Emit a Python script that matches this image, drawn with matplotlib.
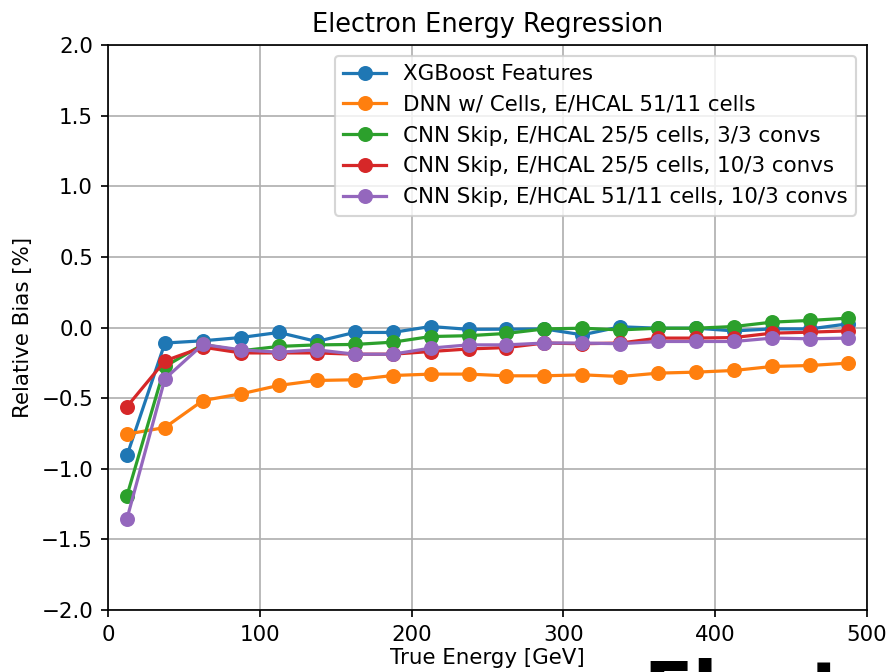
import matplotlib
matplotlib.use("Agg")
import matplotlib.pyplot as plt

energy = [12.5, 37.5, 62.5, 87.5, 112.5, 137.5, 162.5, 187.5, 212.5, 237.5,
          262.5, 287.5, 312.5, 337.5, 362.5, 387.5, 412.5, 437.5, 462.5, 487.5]

xgb = [-0.906, -0.11, -0.094, -0.071, -0.035, -0.099, -0.035, -0.035, 0.007, -0.013,
       -0.012, -0.01, -0.052, 0.005, -0.005, -0.005, -0.024, -0.01, -0.01, 0.026]
dnn = [-0.755, -0.708, -0.517, -0.47, -0.41, -0.375, -0.37, -0.34, -0.33, -0.33,
       -0.342, -0.342, -0.335, -0.347, -0.323, -0.316, -0.304, -0.276, -0.269, -0.252]
cnn_25_3 = [-1.19, -0.276, -0.12, -0.165, -0.134, -0.123, -0.12, -0.104, -0.064, -0.058,
            -0.042, -0.01, -0.005, -0.017, -0.005, -0.005, 0.007, 0.038, 0.05, 0.066]
cnn_25_10 = [-0.56, -0.236, -0.139, -0.18, -0.18, -0.18, -0.189, -0.189, -0.17, -0.152,
             -0.142, -0.11, -0.115, -0.11, -0.075, -0.075, -0.071, -0.04, -0.033, -0.024]
cnn_51_10 = [-1.354, -0.363, -0.12, -0.158, -0.175, -0.158, -0.189, -0.189, -0.146, -0.123,
             -0.123, -0.11, -0.11, -0.115, -0.099, -0.099, -0.099, -0.075, -0.08, -0.075]

labels = ["XGBoost Features",
          "DNN w/ Cells, E/HCAL 51/11 cells",
          "CNN Skip, E/HCAL 25/5 cells, 3/3 convs",
          "CNN Skip, E/HCAL 25/5 cells, 10/3 convs",
          "CNN Skip, E/HCAL 51/11 cells, 10/3 convs"]

dpi = 154
fig = plt.figure(figsize=(889 / dpi, 672 / dpi), dpi=dpi)
ax = fig.add_axes([108 / 889, 1 - 610 / 672, (867 - 108) / 889, (610 - 45) / 672])

for ys, lab in zip([xgb, dnn, cnn_25_3, cnn_25_10, cnn_51_10], labels):
    ax.plot(energy, ys, marker="o", linestyle="-", label=lab)

ax.set_xlim(0, 500)
ax.set_ylim(-2.0, 2.0)
ax.set_xlabel("True Energy [GeV]", labelpad=1.5)
ax.set_ylabel("Relative Bias [%]")
ax.set_title("Electron Energy Regression")
ax.grid(True)
ax.legend(loc="upper right")

# slide heading that got cropped at the bottom of the screenshot
fig.text(643 / 889, 1 - 658 / 672, "Electron", fontsize=34, fontweight="bold",
         color="black", ha="left", va="top")

fig.savefig("out.png", dpi=dpi)
